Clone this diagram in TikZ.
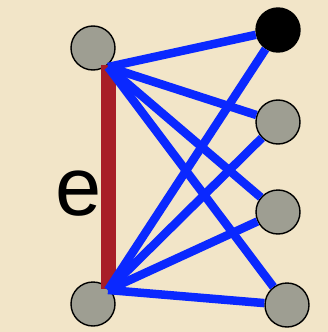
\documentclass[tikz,border=0pt]{standalone}
\usepackage{fontspec}
\setmainfont{Liberation Sans}
\definecolor{parch}{RGB}{242,229,200}
\definecolor{edgeblue}{RGB}{10,40,255}
\definecolor{edgered}{RGB}{168,30,40}
\definecolor{vgray}{RGB}{158,158,146}
\begin{document}
\begin{tikzpicture}[x=1pt,y=-1pt,
  vert/.style={circle,draw=black,line width=1.4pt,fill=vgray,minimum size=44pt,inner sep=0pt},
  bedge/.style={draw=edgeblue,line width=8.5pt},
  redge/.style={draw=edgered,line width=15pt}]
\fill[parch] (0,0) rectangle (328,332);
\useasboundingbox (0,0) rectangle (328,332);
\node[vert] (a) at (93,48) {};
\node[vert] (b) at (93,304) {};
\coordinate (at) at (108,67);
\coordinate (bt) at (108,290);
\coordinate (rtop) at (108.5,65);
\coordinate (rbot) at (108.5,289);
\node[vert,fill=black] (c1) at (278,30) {};
\node[vert] (c2) at (278,122) {};
\node[vert] (c3) at (278,212) {};
\node[vert] (c4) at (287,305) {};
\draw[redge] (rtop) -- (rbot);
\foreach \t in {c1,c2,c3,c4}{
  \draw[bedge] (at) -- (\t);
  \draw[bedge] (bt) -- (\t);
}
\node[inner sep=0pt,font=\fontsize{83}{83}\selectfont] (e) at (79,194) {e};
\end{tikzpicture}
\end{document}
